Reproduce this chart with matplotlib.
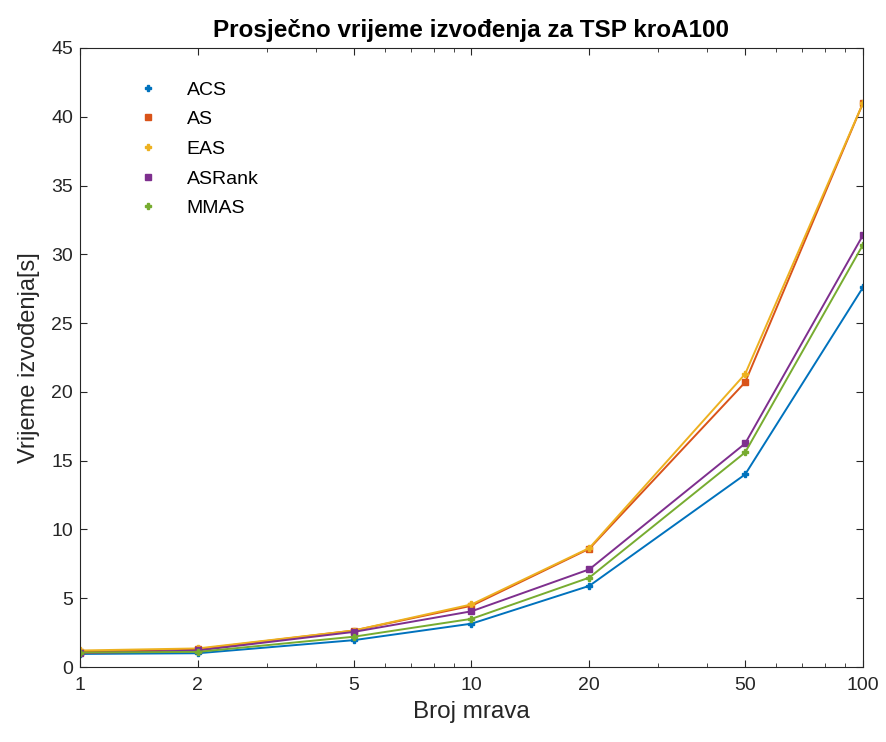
import matplotlib
matplotlib.use("Agg")
import matplotlib.pyplot as plt
from matplotlib.ticker import FixedLocator, NullFormatter, LogLocator
from matplotlib.lines import Line2D

plt.rcParams['font.family'] = ['Liberation Sans', 'DejaVu Sans']

ants = [1, 2, 5, 10, 20, 50, 100]
acs = [0.95, 1.0, 1.95, 3.15, 5.9, 14.0, 27.6]
as_ = [1.1, 1.3, 2.65, 4.45, 8.6, 20.7, 41.0]
eas = [1.2, 1.35, 2.65, 4.55, 8.65, 21.3, 41.0]
asrank = [1.0, 1.2, 2.55, 4.05, 7.1, 16.25, 31.4]
mmas = [1.05, 1.1, 2.2, 3.5, 6.5, 15.6, 30.7]

names = ['ACS', 'AS', 'EAS', 'ASRank', 'MMAS']
series = [acs, as_, eas, asrank, mmas]
colors = ['#0072BD', '#D95319', '#EDB120', '#7E2F8E', '#77AC30']
markers = ['P', 's', 'P', 's', 'P']

xticks = [1, 2, 5, 10, 20, 50, 100]
yticks = list(range(0, 46, 5))

fig = plt.figure(figsize=(8.87, 7.42), dpi=100)
ax = fig.add_axes([80/887, 1-667/742, (863-80)/887, (667-48)/742])

for name, vals, c, m in zip(names, series, colors, markers):
    ax.plot(ants, vals, color=c, lw=1.4, marker=m, ms=4.5, label=name)

ax.set_xscale('log')
ax.set_xlim(1, 100)
ax.set_ylim(0, 45)
ax.xaxis.set_major_locator(FixedLocator(xticks))
ax.set_xticklabels([str(t) for t in xticks])
ax.xaxis.set_minor_locator(LogLocator(base=10, subs=range(1, 10)))
ax.xaxis.set_minor_formatter(NullFormatter())
ax.set_yticks(yticks)

tc = '#262626'
for s in ax.spines.values():
    s.set_color(tc)
    s.set_linewidth(0.8)
ax.tick_params(which='both', direction='in', top=True, right=True, colors=tc, labelsize=14)
ax.tick_params(which='major', length=5)
ax.tick_params(which='minor', length=3)
ax.tick_params(axis='x', pad=7)
ax.tick_params(axis='y', pad=5)

ax.set_xlabel('Broj mrava', fontsize=17.5, color=tc, labelpad=5)
ax.set_ylabel('Vrijeme izvođenja[s]', fontsize=17, color=tc, labelpad=8)
ax.set_title('Prosječno vrijeme izvođenja za TSP kroA100', fontsize=17.5, fontweight='bold', pad=8)

hs = [Line2D([], [], color=c, marker=m, ms=4.5, ls='none') for c, m in zip(colors, markers)]
ax.legend(hs, names, loc='upper left', frameon=False, fontsize=14,
          bbox_to_anchor=(0.052, 0.975), handletextpad=1.5, labelspacing=0.62,
          handlelength=1.0)

fig.savefig('out.png', dpi=100)
